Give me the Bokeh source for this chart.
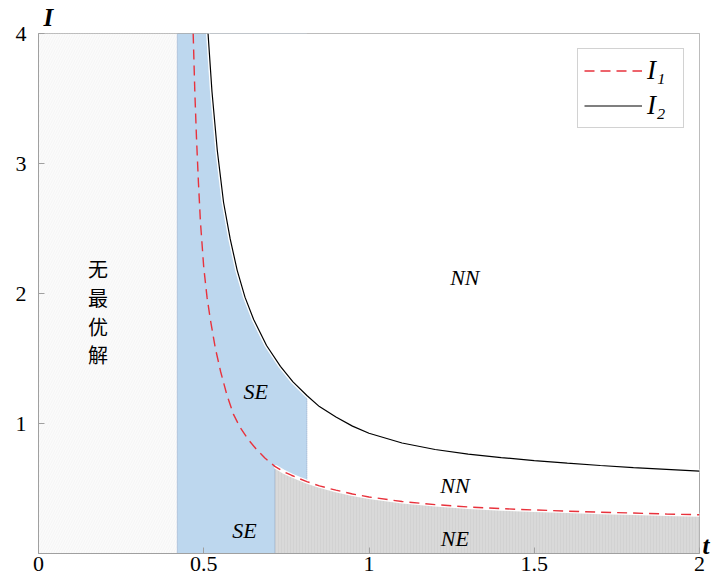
from bokeh.plotting import figure
from bokeh.models import Range1d, FixedTicker, Label, Legend, LegendItem, LinearAxis
from bokeh.embed import file_html
from bokeh.resources import INLINE

# ---------------- data ----------------
I1_t = [0.468, 0.473, 0.478, 0.484, 0.49, 0.50, 0.51, 0.52, 0.535, 0.551, 0.57,
        0.59, 0.61, 0.635, 0.66, 0.685, 0.715, 0.74, 0.765, 0.79, 0.812, 0.85,
        0.9, 0.95, 1.0, 1.1, 1.2, 1.3, 1.4, 1.5, 1.6, 1.7, 1.8, 1.9, 2.0]
I1_v = [4.0, 3.55, 3.2, 2.85, 2.55, 2.2, 1.97, 1.8, 1.58, 1.4, 1.22,
        1.07, 0.97, 0.875, 0.80, 0.735, 0.67, 0.632, 0.602, 0.575, 0.553, 0.52,
        0.487, 0.458, 0.435, 0.40, 0.376, 0.358, 0.345, 0.335, 0.326, 0.318, 0.311, 0.304, 0.298]

I2_t = [0.513, 0.525, 0.541, 0.56, 0.58, 0.601, 0.625, 0.651, 0.69, 0.732,
        0.77, 0.812, 0.85, 0.9, 0.95, 1.0, 1.1, 1.2, 1.3, 1.4, 1.5, 1.6,
        1.7, 1.8, 1.9, 2.0]
I2_v = [4.0, 3.55, 3.1, 2.7, 2.42, 2.18, 1.97, 1.80, 1.6, 1.44,
        1.32, 1.215, 1.13, 1.05, 0.98, 0.925, 0.85, 0.80, 0.765, 0.738, 0.715, 0.695,
        0.677, 0.661, 0.647, 0.634]

T_LOW = 0.42     # left edge of SE region
T_NE = 0.715     # left edge of NE region
T_HIGH = 0.812   # right edge of SE region
I_MAX = 4.0
T_MAX = 2.0

x_ticks = [0, 0.5, 1, 1.5, 2]
x_tick_labels = ["0", "0.5", "1", "1.5", "2"]
y_ticks = [1, 2, 3, 4]
y_tick_labels = ["1", "2", "3", "4"]

region_labels = ["NN", "SE", "NN", "SE", "NE"]
legend_labels = ["I\u2081", "I\u2082"]
no_solution_label = ["无", "最", "优", "解"]
x_axis_name = "t"
y_axis_name = "I"

SERIF = "'Liberation Serif', 'Times New Roman', serif"

# ---------------- figure ----------------
p = figure(width=714, height=580, x_range=Range1d(0, T_MAX), y_range=Range1d(0, I_MAX),
           output_backend="svg", toolbar_location=None,
           min_border_left=38, min_border_top=33, min_border_right=15, min_border_bottom=27)
p.xgrid.visible = False
p.ygrid.visible = False
p.outline_line_color = "#a6a6a6"
p.background_fill_color = "white"
p.border_fill_color = "white"

for ax in (p.xaxis[0], p.yaxis[0]):
    ax.axis_line_color = "#a0a0a0"
    ax.major_tick_line_color = "#a0a0a0"
    ax.major_tick_in = 6
    ax.major_tick_out = 0
    ax.minor_tick_line_color = None
    ax.major_label_text_font = SERIF
    ax.major_label_text_color = "black"

p.xaxis.ticker = FixedTicker(ticks=x_ticks)
p.xaxis.major_label_overrides = {t: l for t, l in zip(x_ticks, x_tick_labels)}
p.xaxis.major_label_text_font_size = "22px"
p.xaxis.major_label_standoff = 3
p.yaxis.ticker = FixedTicker(ticks=y_ticks)
p.yaxis.major_label_overrides = {t: l for t, l in zip(y_ticks, y_tick_labels)}
p.yaxis.major_label_text_font_size = "22px"
p.yaxis.major_label_standoff = 12

# axis names ("I" at top-left, "t" at bottom-right) as label-only axes
p.extra_y_ranges = {"tname": Range1d(0, I_MAX)}
t_axis = LinearAxis(y_range_name="tname", ticker=FixedTicker(ticks=[0.06]),
                    major_label_overrides={0.06: x_axis_name})
p.add_layout(t_axis, "right")
i_axis = LinearAxis(ticker=FixedTicker(ticks=[0.03]),
                    major_label_overrides={0.03: y_axis_name})
p.add_layout(i_axis, "above")
for ax in (t_axis, i_axis):
    ax.axis_line_color = None
    ax.major_tick_line_color = None
    ax.minor_tick_line_color = None
    ax.major_tick_in = 0
    ax.major_tick_out = 0
    ax.major_label_standoff = 3
    ax.major_label_text_font = SERIF
    ax.major_label_text_font_style = "bold italic"
    ax.major_label_text_font_size = "25px"
    ax.major_label_text_color = "black"

# ---------------- regions ----------------
# no optimal solution
p.quad(left=0, right=T_LOW, bottom=0, top=I_MAX, fill_color="#fbfbfb", line_color=None,
       hatch_pattern="right_diagonal_line", hatch_color="#eeeeee", hatch_scale=5, hatch_weight=0.5)
# SE (blue)
p.quad(left=T_LOW, right=T_HIGH, bottom=0, top=I_MAX, fill_color="#bdd7ee", line_color=None)
# white above I2
p.varea(x=I2_t, y1=I2_v, y2=[I_MAX] * len(I2_v), fill_color="white")
# NE (gray) below I1
ne_t = [t for t in I1_t if t >= T_NE]
ne_v = [v for t, v in zip(I1_t, I1_v) if t >= T_NE]
p.varea(x=ne_t, y1=[0] * len(ne_t), y2=ne_v, fill_color="#d9d9d9",
        hatch_pattern="vertical_line", hatch_color="#cdcdcd", hatch_scale=3, hatch_weight=0.6)

# dotted borders
i1_ne = I1_v[I1_t.index(T_NE)]
i1_hi = I1_v[I1_t.index(T_HIGH)]
i2_hi = I2_v[I2_t.index(T_HIGH)]
p.segment(x0=[T_LOW, T_NE, T_HIGH], y0=[0, 0, i1_hi], x1=[T_LOW, T_NE, T_HIGH],
          y1=[I_MAX, i1_ne, i2_hi], line_color="#8ea6c6", line_width=1, line_dash="1 1")

# white halos
p.line(ne_t, ne_v, line_color="white", line_width=4)
p.line(I2_t, I2_v, line_color="white", line_width=4)

# curves
r1 = p.line(I1_t, I1_v, line_color="#e8323c", line_width=1.4, line_dash="10 6")
r2 = p.line(I2_t, I2_v, line_color="black", line_width=1.2)

legend = Legend(items=[LegendItem(label=legend_labels[0], renderers=[r1]),
                       LegendItem(label=legend_labels[1], renderers=[r2])],
                location="top_right")
legend.margin = 15
legend.padding = 6
legend.spacing = 4
legend.glyph_width = 58
legend.glyph_height = 31
legend.label_height = 31
legend.label_width = 30
legend.label_standoff = 5
legend.label_text_font = SERIF
legend.label_text_font_style = "italic"
legend.label_text_font_size = "27px"
legend.label_text_color = "black"
legend.border_line_color = "#a6a6a6"
legend.background_fill_alpha = 1
p.add_layout(legend)

# ---------------- texts ----------------
label_pos = [(1.29, 2.12), (0.657, 1.25), (1.26, 0.52), (0.623, 0.18), (1.26, 0.115)]
for txt, (x, y) in zip(region_labels, label_pos):
    p.add_layout(Label(x=x, y=y, text=txt, text_font=SERIF, text_font_style="italic",
                       text_font_size="22px", text_color="black",
                       text_align="center", text_baseline="middle"))

cn_y = [2.19, 1.97, 1.75, 1.53]
for ch, y in zip(no_solution_label, cn_y):
    p.add_layout(Label(x=0.18, y=y, text=ch, text_font="Noto Sans CJK SC",
                       text_font_size="20px", text_color="black",
                       text_align="center", text_baseline="middle"))

open("out.html", "w").write(file_html(p, INLINE))
